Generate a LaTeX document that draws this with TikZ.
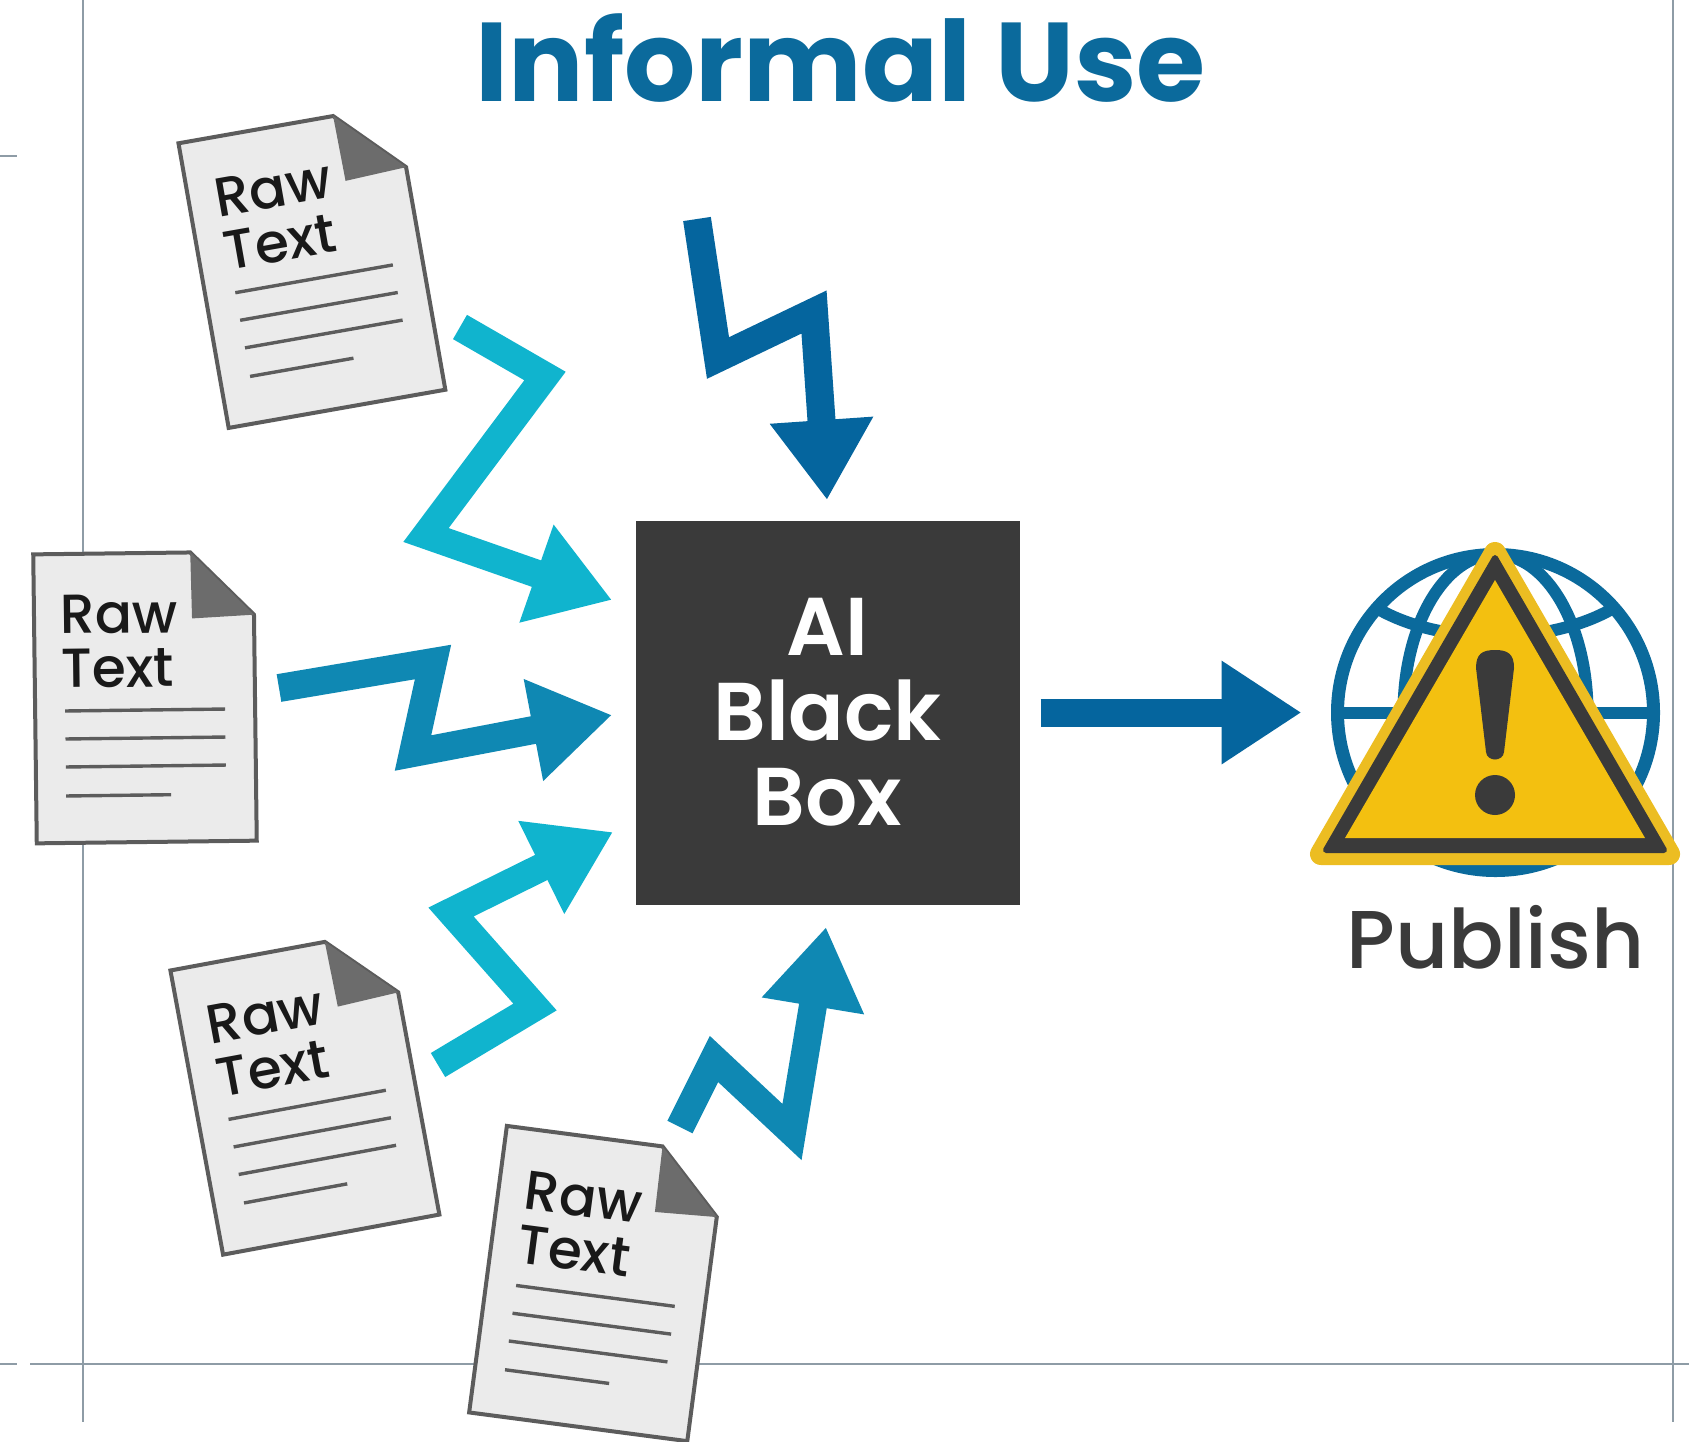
\documentclass[tikz,border=0pt]{standalone}
\usepackage{fontspec}
\setmainfont{Poppins}
\newfontfamily\mediumfont{Poppins Medium}
\newfontfamily\semifont{Poppins SemiBold}
\usetikzlibrary{arrows.meta, positioning}

\definecolor{titleblue}{HTML}{0B6A9C}
\definecolor{flowcyan}{HTML}{10B4CE}
\definecolor{flowmid}{HTML}{0F88B3}
\definecolor{flowdark}{HTML}{05659E}
\definecolor{boxgray}{HTML}{3A3A3A}
\definecolor{sheetgray}{HTML}{EBEBEB}
\definecolor{edgegray}{HTML}{5C5C5C}
\definecolor{guidegray}{HTML}{8E9CA6}
\definecolor{warnyellow}{HTML}{F3C010}
\definecolor{warnrim}{HTML}{ECBD22}

\tikzset{
    sheet/.style={draw=edgegray, fill=sheetgray, line width=2pt, line join=miter},
    textline/.style={draw=edgegray, line width=1.7pt},
    rawlabel/.style={anchor=west, align=left, inner sep=0pt, text=black!90, transform shape,
        font=\mediumfont\fontsize{27.5}{27}\selectfont},
    flow/.style={->, line width=14pt, line join=miter},
    guide/.style={draw=guidegray, line width=1.2pt}
}

% one sheet of raw text: name, x, y, angle
\newcommand{\rawdoc}[4]{
    \begin{scope}[shift={(#2,#3)}, rotate=#4]
        \draw[sheet] (-110,-145) -- (47,-145) -- (110,-82) -- (110,144) -- (-110,144) -- cycle;
        \fill[edgegray!90] (47,-145) -- (110,-82) -- (48,-79) -- cycle;
        \node[rawlabel] (#1) at (-84,-57) {Raw\\Text};
        \draw[textline] (-80,12) -- (80,12);
        \draw[textline] (-80,40) -- (80,40);
        \draw[textline] (-80,68) -- (80,68);
        \draw[textline] (-80,97) -- (25,97);
    \end{scope}
}

\begin{document}
\begin{tikzpicture}[x=0.5pt, y=-0.5pt, >={Triangle[length=40pt, width=49pt]}]

    \useasboundingbox (0,0) rectangle (1689,1441);
    \fill[white] (0,0) rectangle (1689,1441);

    % Guide lines
    \draw[guide] (83,0) -- (83,1422);
    \draw[guide] (1673,0) -- (1673,1422);
    \draw[guide] (30,1364) -- (1689,1364);
    \draw[guide] (0,1364) -- (17,1364);
    \draw[guide] (0,156) -- (17,156);

    % Nodes
    \node (box) at (827.5,712.5) [fill=boxgray, minimum size=192pt, outer sep=0pt, align=center, text=white,
        font=\semifont\fontsize{41}{42.5}\selectfont] {AI\\Black\\Box};
    \node [above=231pt of box, anchor=center, xshift=6.5pt] (title) [text=titleblue, font=\fontsize{56}{60}\selectfont\bfseries] {Informal Use};
    \node [right=159pt of box] (globe) [draw=titleblue, line width=6.5pt, circle, minimum size=158pt, outer sep=0pt] {};
    \node [below=112.5pt of globe.center, anchor=center] (publish) [text=boxgray, font=\mediumfont\fontsize{41}{42}\selectfont] {Publish};

    \rawdoc{doc1}{312}{267}{10}
    \rawdoc{doc2}{145}{698}{0.7}
    \rawdoc{doc3}{305}{1093}{10.5}
    \rawdoc{doc4}{597}{1284}{-7.5}

    % Globe and warning sign
    \begin{scope}
        \clip (globe) circle (79pt);
        \draw[titleblue, line width=6pt] (globe.west) -- (globe.east);
        \draw[titleblue, line width=6pt] (globe) ellipse (92 and 158);
        \draw[titleblue, line width=6pt] (1370,604) .. controls (1435,647) and (1555,647) .. (1620,604);
    \end{scope}
    \draw[warnrim, fill=warnrim, line width=11pt, line join=round] (1495,553) -- (1321,854) -- (1669,854) -- cycle;
    \draw[boxgray, fill=boxgray, line width=3pt, line join=round] (1495,558) -- (1326,850) -- (1664,850) -- cycle;
    \fill[warnyellow] (1495,580) -- (1345,838) -- (1645,838) -- cycle;
    \fill[boxgray] (1476,668) .. controls (1476,654) and (1482,650) .. (1495,650) .. controls (1508,650) and (1514,654) .. (1514,668)
        -- (1504,752) .. controls (1503,762) and (1487,762) .. (1486,752) -- cycle;
    \fill[boxgray] (1495,795) circle (10pt);

    % Arrow ends
    \coordinate (tail1) at (460,327);
    \coordinate (tip1) at (612,600);
    \coordinate (tail2) at (279,688);
    \coordinate (tip2) at (612,715);
    \coordinate (tail3) at (438,1065);
    \coordinate (tip3) at (613,832);
    \coordinate (tail4) at (680,1127);
    \coordinate (tip4) at (826,927);
    \coordinate (tail5) at (697,219);
    \coordinate (tip5) at (827,500);

    % Arrows
    \draw[flow, flowcyan] (tail1) -- (545,376) -- (426,535) -- (tip1);
    \draw[flow, flowmid] (tail2) -- (433,662) -- (413,753) -- (tip2);
    \draw[flow, flowcyan] (tail3) -- (535,1007) -- (451,912) -- (tip3);
    \draw[flow, flowmid] (tail4) -- (714,1059) -- (792,1132) -- (tip4);
    \draw[flow, flowdark] (tail5) -- (718,358) -- (814,312) -- (tip5);
    \draw[flow, flowdark, shorten <=10.5pt, shorten >=18pt] (box) -- (globe);

\end{tikzpicture}
\end{document}
